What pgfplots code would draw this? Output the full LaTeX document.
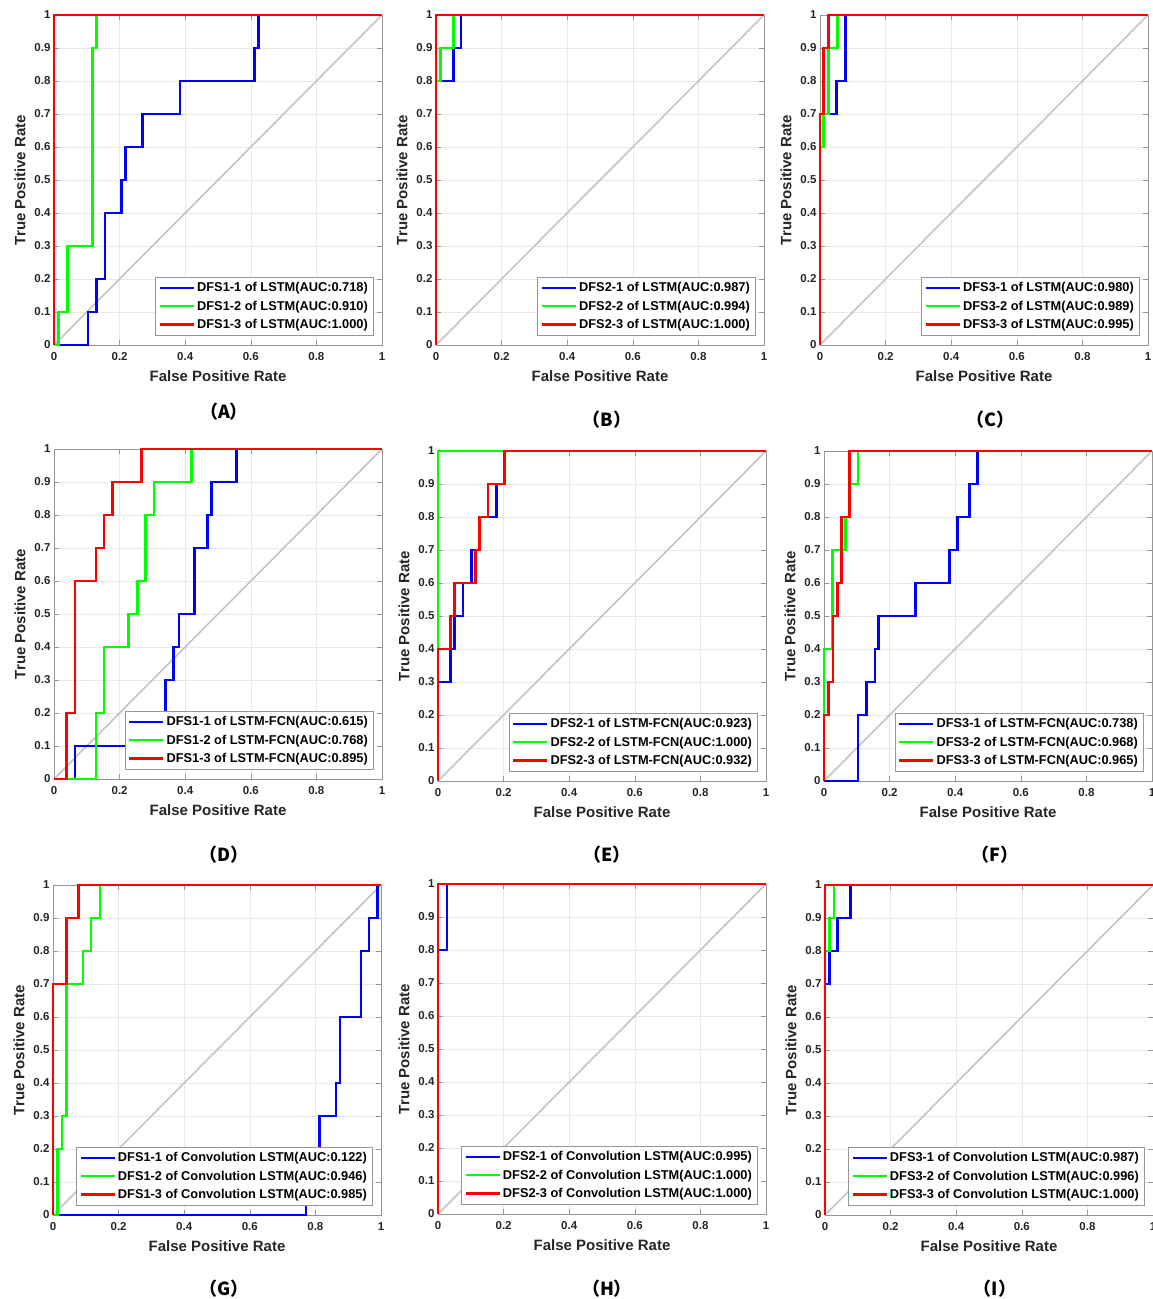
\documentclass[border=0pt]{standalone}
\usepackage{fontspec}
\setmainfont{Liberation Sans}
\newfontfamily\cjk{Noto Sans CJK SC}
\usepackage{pgfplots}
\pgfplotsset{compat=1.18}

\definecolor{axgray}{RGB}{150,150,150}
\definecolor{txtgray}{RGB}{38,38,38}
\definecolor{gridgray}{RGB}{232,232,232}
\definecolor{diaggray}{RGB}{195,195,195}
\definecolor{rocblue}{RGB}{0,0,255}
\definecolor{rocgreen}{RGB}{0,255,0}
\definecolor{rocred}{RGB}{255,0,0}

\pgfplotsset{
  roc/.style={
    scale only axis, width=328pt, height=330pt,
    anchor=north west,
    xmin=0, xmax=1, ymin=0, ymax=1,
    xtick={0,0.2,0.4,0.6,0.8,1},
    ytick={0,0.1,0.2,0.3,0.4,0.5,0.6,0.7,0.8,0.9,1},
    /pgf/number format/assume math mode=true,
    tick align=inside, major tick length=5pt,
    tick style={axgray, line width=0.6pt},
    axis line style={axgray, line width=0.8pt},
    grid=major, grid style={gridgray, line width=0.6pt},
    tick label style={font=\fontsize{11.5}{12}\selectfont\bfseries, text=txtgray},
    xticklabel style={yshift=-4pt},
    label style={font=\fontsize{15}{16}\selectfont\bfseries, text=txtgray},
    xlabel style={yshift=-3pt},
    ylabel style={yshift=2pt},
    xlabel={False Positive Rate}, ylabel={True Positive Rate},
    clip=false,
    legend style={at={(0.973,0.03)}, anchor=south east, draw=axgray,
      line width=0.6pt, fill=white,
      font=\fontsize{12.8}{13}\selectfont\bfseries,
      row sep=3.5pt, inner sep=3pt},
    legend cell align=left,
    legend image code/.code={\draw[#1, line width=2.6pt] (0pt,0pt) -- (34pt,0pt);},
    every axis plot/.append style={line width=2.6pt},
  },
  diag/.style={diaggray, line width=1.6pt, forget plot},
}

\begin{document}
\begin{tikzpicture}
\useasboundingbox (0pt,0pt) rectangle (1153pt,-1299pt);

% (A)
\begin{axis}[roc, at={(54pt,-15pt)}]
\addplot[diag] coordinates {(0,0) (1,1)};
\addplot[rocblue] coordinates {(0,0)(0.104,0)(0.104,0.1)(0.129,0.1)(0.129,0.2)(0.156,0.2)(0.156,0.4)(0.205,0.4)(0.205,0.5)(0.218,0.5)(0.218,0.6)(0.269,0.6)(0.269,0.7)(0.384,0.7)(0.384,0.8)(0.611,0.8)(0.611,0.9)(0.623,0.9)(0.623,1)(1,1)};
\addlegendentry{DFS1-1 of LSTM(AUC:0.718)}
\addplot[rocgreen] coordinates {(0,0)(0.014,0)(0.014,0.1)(0.042,0.1)(0.042,0.3)(0.117,0.3)(0.117,0.9)(0.129,0.9)(0.129,1)(1,1)};
\addlegendentry{DFS1-2 of LSTM(AUC:0.910)}
\addplot[rocred] coordinates {(0,0)(0,1)(1,1)};
\addlegendentry{DFS1-3 of LSTM(AUC:1.000)}
\end{axis}

% (B)
\begin{axis}[roc, at={(436pt,-15pt)}]
\addplot[diag] coordinates {(0,0) (1,1)};
\addplot[rocblue] coordinates {(0,0)(0,0.8)(0.053,0.8)(0.053,0.9)(0.076,0.9)(0.076,1)(1,1)};
\addlegendentry{DFS2-1 of LSTM(AUC:0.987)}
\addplot[rocgreen] coordinates {(0,0)(0,0.8)(0.013,0.8)(0.013,0.9)(0.053,0.9)(0.053,1)(1,1)};
\addlegendentry{DFS2-2 of LSTM(AUC:0.994)}
\addplot[rocred] coordinates {(0,0)(0,1)(1,1)};
\addlegendentry{DFS2-3 of LSTM(AUC:1.000)}
\end{axis}

% (C)
\begin{axis}[roc, at={(820pt,-15pt)}]
\addplot[diag] coordinates {(0,0) (1,1)};
\addplot[rocblue] coordinates {(0,0)(0,0.7)(0.051,0.7)(0.051,0.8)(0.078,0.8)(0.078,1)(1,1)};
\addlegendentry{DFS3-1 of LSTM(AUC:0.980)}
\addplot[rocgreen] coordinates {(0,0)(0,0.6)(0.010,0.6)(0.010,0.7)(0.025,0.7)(0.025,0.9)(0.053,0.9)(0.053,1)(1,1)};
\addlegendentry{DFS3-2 of LSTM(AUC:0.989)}
\addplot[rocred] coordinates {(0,0)(0,0.7)(0.010,0.7)(0.010,0.9)(0.026,0.9)(0.026,1)(1,1)};
\addlegendentry{DFS3-3 of LSTM(AUC:0.995)}
\end{axis}

% (D)
\begin{axis}[roc, at={(54pt,-449pt)}]
\addplot[diag] coordinates {(0,0) (1,1)};
\addplot[rocblue] coordinates {(0,0)(0.064,0)(0.064,0.1)(0.330,0.1)(0.330,0.2)(0.340,0.2)(0.340,0.3)(0.365,0.3)(0.365,0.4)(0.381,0.4)(0.381,0.5)(0.429,0.5)(0.429,0.7)(0.468,0.7)(0.468,0.8)(0.480,0.8)(0.480,0.9)(0.556,0.9)(0.556,1)(1,1)};
\addlegendentry{DFS1-1 of LSTM-FCN(AUC:0.615)}
\addplot[rocgreen] coordinates {(0,0)(0.128,0)(0.128,0.2)(0.153,0.2)(0.153,0.4)(0.228,0.4)(0.228,0.5)(0.254,0.5)(0.254,0.6)(0.279,0.6)(0.279,0.8)(0.305,0.8)(0.305,0.9)(0.419,0.9)(0.419,1)(1,1)};
\addlegendentry{DFS1-2 of LSTM-FCN(AUC:0.768)}
\addplot[rocred] coordinates {(0,0)(0.039,0)(0.039,0.2)(0.064,0.2)(0.064,0.6)(0.128,0.6)(0.128,0.7)(0.152,0.7)(0.152,0.8)(0.178,0.8)(0.178,0.9)(0.267,0.9)(0.267,1)(1,1)};
\addlegendentry{DFS1-3 of LSTM-FCN(AUC:0.895)}
\end{axis}

% (E)
\begin{axis}[roc, at={(438pt,-451pt)}]
\addplot[diag] coordinates {(0,0) (1,1)};
\addplot[rocblue] coordinates {(0,0)(0,0.3)(0.039,0.3)(0.039,0.4)(0.051,0.4)(0.051,0.5)(0.076,0.5)(0.076,0.6)(0.102,0.6)(0.102,0.7)(0.127,0.7)(0.127,0.8)(0.178,0.8)(0.178,0.9)(0.203,0.9)(0.203,1)(1,1)};
\addlegendentry{DFS2-1 of LSTM-FCN(AUC:0.923)}
\addplot[rocgreen] coordinates {(0,0)(0,1)(1,1)};
\addlegendentry{DFS2-2 of LSTM-FCN(AUC:1.000)}
\addplot[rocred] coordinates {(0,0)(0,0.4)(0.039,0.4)(0.039,0.5)(0.051,0.5)(0.051,0.6)(0.115,0.6)(0.115,0.7)(0.127,0.7)(0.127,0.8)(0.153,0.8)(0.153,0.9)(0.203,0.9)(0.203,1)(1,1)};
\addlegendentry{DFS2-3 of LSTM-FCN(AUC:0.932)}
\end{axis}

% (F)
\begin{axis}[roc, at={(824pt,-451pt)}]
\addplot[diag] coordinates {(0,0) (1,1)};
\addplot[rocblue] coordinates {(0,0)(0.104,0)(0.104,0.2)(0.129,0.2)(0.129,0.3)(0.155,0.3)(0.155,0.4)(0.167,0.4)(0.167,0.5)(0.279,0.5)(0.279,0.6)(0.382,0.6)(0.382,0.7)(0.407,0.7)(0.407,0.8)(0.443,0.8)(0.443,0.9)(0.468,0.9)(0.468,1)(1,1)};
\addlegendentry{DFS3-1 of LSTM-FCN(AUC:0.738)}
\addplot[rocgreen] coordinates {(0,0)(0,0.4)(0.025,0.4)(0.025,0.7)(0.066,0.7)(0.066,0.8)(0.079,0.8)(0.079,0.9)(0.104,0.9)(0.104,1)(1,1)};
\addlegendentry{DFS3-2 of LSTM-FCN(AUC:0.968)}
\addplot[rocred] coordinates {(0,0)(0,0.2)(0.013,0.2)(0.013,0.3)(0.027,0.3)(0.027,0.5)(0.041,0.5)(0.041,0.6)(0.053,0.6)(0.053,0.8)(0.078,0.8)(0.078,1)(1,1)};
\addlegendentry{DFS3-3 of LSTM-FCN(AUC:0.965)}
\end{axis}

% (G)
\begin{axis}[roc, at={(53pt,-885pt)}]
\addplot[diag] coordinates {(0,0) (1,1)};
\addplot[rocblue] coordinates {(0,0)(0.771,0)(0.771,0.2)(0.812,0.2)(0.812,0.3)(0.863,0.3)(0.863,0.4)(0.875,0.4)(0.875,0.6)(0.939,0.6)(0.939,0.8)(0.964,0.8)(0.964,0.9)(0.990,0.9)(0.990,1)(1,1)};
\addlegendentry{DFS1-1 of Convolution LSTM(AUC:0.122)}
\addplot[rocgreen] coordinates {(0,0)(0.014,0)(0.014,0.2)(0.027,0.2)(0.027,0.3)(0.041,0.3)(0.041,0.7)(0.091,0.7)(0.091,0.8)(0.116,0.8)(0.116,0.9)(0.143,0.9)(0.143,1)(1,1)};
\addlegendentry{DFS1-2 of Convolution LSTM(AUC:0.946)}
\addplot[rocred] coordinates {(0,0)(0,0.7)(0.041,0.7)(0.041,0.9)(0.078,0.9)(0.078,1)(1,1)};
\addlegendentry{DFS1-3 of Convolution LSTM(AUC:0.985)}
\end{axis}

% (H)
\begin{axis}[roc, at={(438pt,-884pt)}]
\addplot[diag] coordinates {(0,0) (1,1)};
\addplot[rocblue] coordinates {(0,0)(0,0.8)(0.027,0.8)(0.027,1)(1,1)};
\addlegendentry{DFS2-1 of Convolution LSTM(AUC:0.995)}
\addplot[rocgreen] coordinates {(0,0)(0,1)(1,1)};
\addlegendentry{DFS2-2 of Convolution LSTM(AUC:1.000)}
\addplot[rocred] coordinates {(0,0)(0,1)(1,1)};
\addlegendentry{DFS2-3 of Convolution LSTM(AUC:1.000)}
\end{axis}

% (I)
\begin{axis}[roc, at={(825pt,-885pt)}]
\addplot[diag] coordinates {(0,0) (1,1)};
\addplot[rocblue] coordinates {(0,0)(0,0.7)(0.013,0.7)(0.013,0.8)(0.039,0.8)(0.039,0.9)(0.078,0.9)(0.078,1)(1,1)};
\addlegendentry{DFS3-1 of Convolution LSTM(AUC:0.987)}
\addplot[rocgreen] coordinates {(0,0)(0,0.8)(0.013,0.8)(0.013,0.9)(0.027,0.9)(0.027,1)(1,1)};
\addlegendentry{DFS3-2 of Convolution LSTM(AUC:0.996)}
\addplot[rocred] coordinates {(0,0)(0,1)(1,1)};
\addlegendentry{DFS3-3 of Convolution LSTM(AUC:1.000)}
\end{axis}

% panel labels
\begin{scope}[every node/.style={font=\cjk\bfseries\fontsize{18}{19}\selectfont}]
\node at (224pt,-412pt) {（A）};
\node at (607pt,-420pt) {（B）};
\node at (990pt,-420pt) {（C）};
\node at (224pt,-855pt) {（D）};
\node at (607pt,-855pt) {（E）};
\node at (995pt,-855pt) {（F）};
\node at (224pt,-1289pt) {（G）};
\node at (607pt,-1289pt) {（H）};
\node at (995pt,-1289pt) {（I）};
\end{scope}
\end{tikzpicture}
\end{document}
